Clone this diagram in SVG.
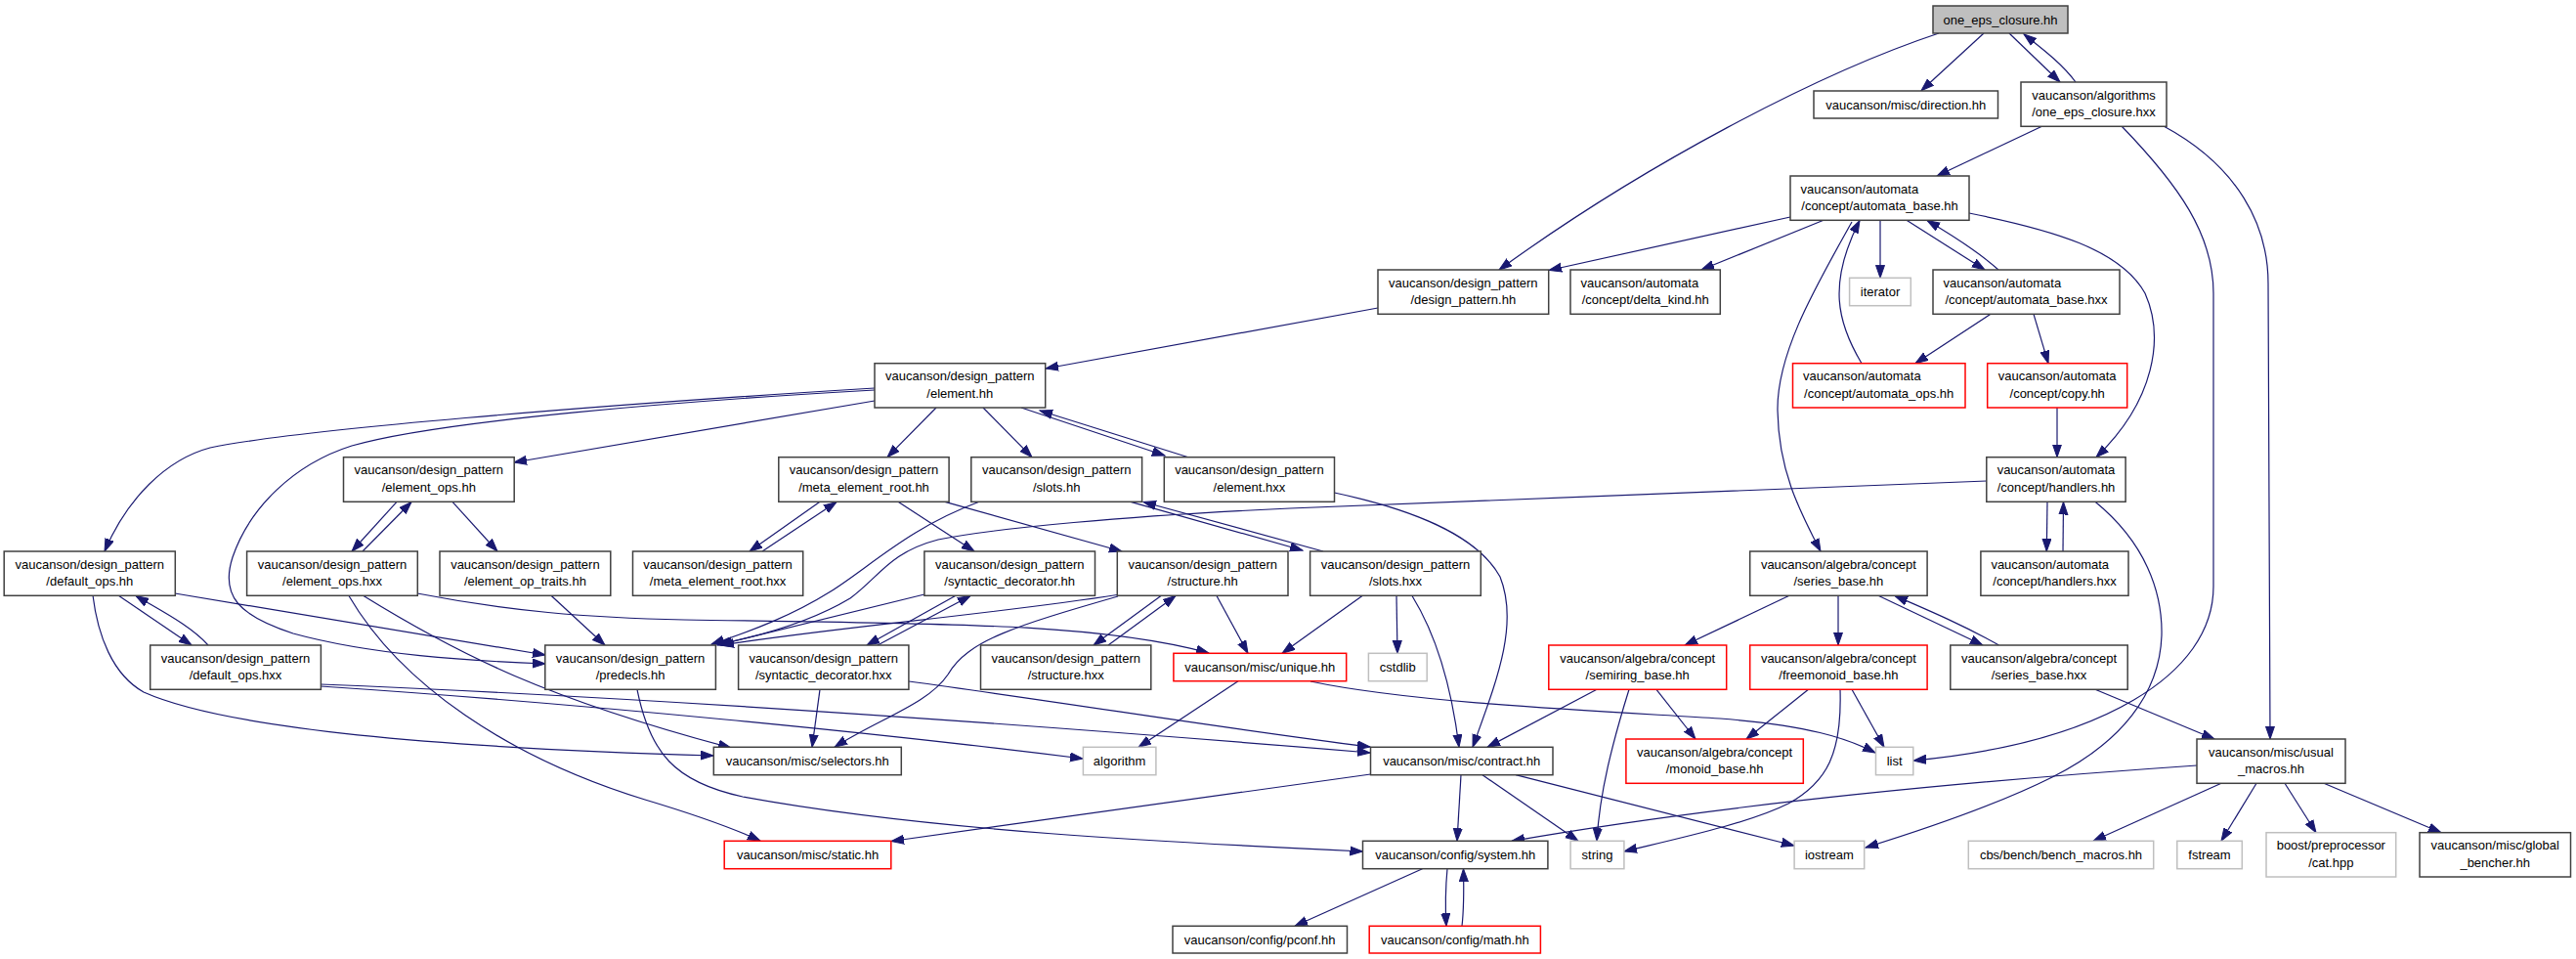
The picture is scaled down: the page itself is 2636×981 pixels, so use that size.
<svg xmlns="http://www.w3.org/2000/svg" width="2636" height="981" viewBox="0 0 2636 981">
<defs>
<marker id="a" markerWidth="15" markerHeight="11" refX="13" refY="5" orient="auto" markerUnits="userSpaceOnUse"><path d="M0,0.5 L13,5 L0,9.5 z" fill="#191970" stroke="#191970" stroke-width="1"/></marker>
</defs>
<style>
rect{fill:#fff;stroke:#404040;stroke-width:1.5}
.g rect{stroke:#bfbfbf}
.r rect{stroke:#ff0000}
.root rect{fill:#bfbfbf}
text{font-family:"Liberation Sans",Arial,sans-serif;font-size:13px;fill:#000;text-anchor:middle}
text.l{text-anchor:start}
#edges path{fill:none;stroke:#191970;stroke-width:1.2;marker-end:url(#a)}
</style>
<rect x="0" y="0" width="2636" height="981" style="fill:#fff;stroke:none"/>
<g id="edges">
<path d="M1984,34 C1860,75 1680,170 1534,276"/>
<path d="M2030,34 L1966,92.7"/>
<path d="M2056,34 L2108,84"/>
<path d="M2124,84 C2110,65 2090,50 2071,35"/>
<path d="M2090,129 L1982,180"/>
<path d="M2171,129 C2230,190 2265,240 2265,300 L2265,600 C2265,690 2150,760 1958,778"/>
<path d="M2214,129 C2290,170 2321,230 2321,290 L2323,756"/>
<path d="M1832,222 L1585,276.5"/>
<path d="M1866,225.3 L1741,276"/>
<path d="M1924,225.3 L1924,284.3"/>
<path d="M1951,225.3 L2031,276"/>
<path d="M2045,276 C2025,258 2000,242 1972,225.5"/>
<path d="M2015,218 C2100,235 2170,255 2195,300 C2215,345 2205,410 2145,467.7"/>
<path d="M1895,227 C1860,290 1818,360 1819,420 C1820,480 1840,520 1863,564"/>
<path d="M2037,321.3 L1960,371.7"/>
<path d="M2081,321.3 L2096,371.7"/>
<path d="M2105,417 L2105,467.7"/>
<path d="M1905,371.7 C1880,330 1870,290 1903,225.5"/>
<path d="M1410,315 L1070,377"/>
<path d="M958,417 L908,467.7"/>
<path d="M1006,417 L1056,467.7"/>
<path d="M1045,417 L1192,466"/>
<path d="M1216,467.7 L1064,420"/>
<path d="M895,410 L526,473"/>
<path d="M895,397 C600,415 300,440 215,458 C170,470 130,510 107,564"/>
<path d="M895,399 C700,410 450,430 360,456 C300,475 255,520 238,570 C225,610 245,630 300,648 C380,670 480,676 558,679"/>
<path d="M406,513.3 L360,564"/>
<path d="M371,564 L421,513.5"/>
<path d="M463,513.3 L509,564"/>
<path d="M121,609 L196,660"/>
<path d="M213,660 C195,640 165,625 139,609.5"/>
<path d="M179,607 L558,670"/>
<path d="M95,609 C100,650 115,690 147,708 C230,745 450,765 730,773"/>
<path d="M328,700 C700,715 1100,745 1402,770"/>
<path d="M328,702 C600,720 900,750 1108,776"/>
<path d="M357,609.5 C410,700 520,775 660,818 C700,830 745,845 778,860"/>
<path d="M372,609.5 C470,670 560,715 748,765"/>
<path d="M427,607 C520,625 600,632 700,634 C950,638 1120,636 1237,668"/>
<path d="M564,609.3 L619,660"/>
<path d="M839,513.3 L767,564"/>
<path d="M780,564 L856,513.5"/>
<path d="M919,513.3 L997,564"/>
<path d="M967,513.3 L1148,564"/>
<path d="M1002,513.3 C930,540 890,580 850,605 C810,630 770,645 728,659"/>
<path d="M1157,513.3 L1333,563"/>
<path d="M1354,564 L1170,513.5"/>
<path d="M1365.5,504 C1440,520 1510,545 1535,590 C1555,640 1530,700 1507,764.3"/>
<path d="M2033,492 L1320,520 C1150,528 1020,540 960,552 C910,565 900,590 870,612 C830,636 780,650 736,659"/>
<path d="M978,609.3 L887,660"/>
<path d="M898,660 L993,609.5"/>
<path d="M946,608 L734,660"/>
<path d="M1143,608.5 C1020,628 850,642 738,660"/>
<path d="M1144,610 C1040,640 990,655 970,690 C950,720 900,735 854,764.3"/>
<path d="M1188,609.5 L1119,660"/>
<path d="M1134,660 L1203,609.5"/>
<path d="M1245,609.5 L1277,668.3"/>
<path d="M1394,609.5 L1312,668.3"/>
<path d="M1429,609.5 L1430,668.3"/>
<path d="M1445,609.5 C1470,650 1485,700 1493,764.3"/>
<path d="M1267,696.7 L1165,764.3"/>
<path d="M1341,697 C1450,720 1650,728 1760,735 C1850,742 1890,755 1919,770"/>
<path d="M839,705.3 L831,764.3"/>
<path d="M930,697 C1100,720 1250,745 1402,764"/>
<path d="M652,705.3 C665,770 690,800 760,815 C950,850 1200,862 1394.5,871"/>
<path d="M1402.5,792 L912,860.5"/>
<path d="M1495,792.7 L1491,860.3"/>
<path d="M1517,792.7 L1615,860.3"/>
<path d="M1551,792.7 L1836,865"/>
<path d="M1455.5,888.7 L1325,947.3"/>
<path d="M1481,888.7 C1479,910 1479,930 1480,947.3"/>
<path d="M1496,947.3 C1498,930 1498,910 1497.5,888.7"/>
<path d="M1831,609.3 L1724,660"/>
<path d="M1881,609.3 L1881,660"/>
<path d="M1922,609.3 L2029,660"/>
<path d="M2045.5,660 C2010,640 1975,625 1939,609.5"/>
<path d="M1634,705.3 L1522,764.3"/>
<path d="M1667,705.3 C1650,760 1637,810 1634,860.3"/>
<path d="M1695,705.3 L1735,756"/>
<path d="M1850.5,705.3 L1787,756"/>
<path d="M1895,705.3 L1928,764.3"/>
<path d="M1883,705.3 C1885,770 1870,800 1830,822 C1790,842 1720,857 1662,871"/>
<path d="M2144,705.3 L2266,756"/>
<path d="M2095,513.3 L2094.3,564"/>
<path d="M2111,564 L2111.5,513.5"/>
<path d="M2144,513.3 C2195,555 2213,605 2212,650 C2210,710 2170,760 2100,795 C2050,820 1980,845 1909,867"/>
<path d="M2248,783 C2000,800 1750,825 1547,860.3"/>
<path d="M2273,801.3 L2142,860.3"/>
<path d="M2309,801.3 L2273,860.3"/>
<path d="M2338,801.3 L2370,851.7"/>
<path d="M2378,801.3 L2498,851.7"/>
</g>
<g id="one_eps_closure_hh" class="root"><rect x="1978" y="6" width="138" height="28"/><text x="2047" y="24.5">one_eps_closure.hh</text></g>
<g id="direction_hh"><rect x="1856" y="93" width="188.5" height="28"/><text x="1950.3" y="111.5">vaucanson/misc/direction.hh</text></g>
<g id="one_eps_closure_hxx"><rect x="2068" y="84" width="149" height="45.3"/><text x="2142.5" y="101.5">vaucanson/algorithms</text><text x="2142.5" y="119.3">/one_eps_closure.hxx</text></g>
<g id="automata_base_hh"><rect x="1832" y="180" width="183" height="45.3"/><text class="l" x="1842.5" y="197.5">vaucanson/automata</text><text x="1923.5" y="215.3">/concept/automata_base.hh</text></g>
<g id="design_pattern_hh"><rect x="1410" y="276" width="174.7" height="45.3"/><text x="1497.3" y="293.5">vaucanson/design_pattern</text><text x="1497.3" y="311.3">/design_pattern.hh</text></g>
<g id="delta_kind_hh"><rect x="1607" y="276" width="153.3" height="45.3"/><text class="l" x="1617.5" y="293.5">vaucanson/automata</text><text x="1683.7" y="311.3">/concept/delta_kind.hh</text></g>
<g id="iterator" class="g"><rect x="1892.6" y="284.3" width="62.7" height="28.4"/><text x="1924" y="302.8">iterator</text></g>
<g id="automata_base_hxx"><rect x="1978" y="276" width="191" height="45.3"/><text class="l" x="1988.5" y="293.5">vaucanson/automata</text><text x="2073.5" y="311.3">/concept/automata_base.hxx</text></g>
<g id="element_hh"><rect x="895" y="371.7" width="174.7" height="45.3"/><text x="982.3" y="389.2">vaucanson/design_pattern</text><text x="982.3" y="407">/element.hh</text></g>
<g id="automata_ops_hh" class="r"><rect x="1834.5" y="371.7" width="176.5" height="45.3"/><text class="l" x="1845" y="389.2">vaucanson/automata</text><text x="1922.7" y="407">/concept/automata_ops.hh</text></g>
<g id="copy_hh" class="r"><rect x="2033.7" y="371.7" width="143" height="45.3"/><text x="2105.2" y="389.2">vaucanson/automata</text><text x="2105.2" y="407">/concept/copy.hh</text></g>
<g id="element_ops_hh"><rect x="351.5" y="467.7" width="174.7" height="45.6"/><text x="438.8" y="485.2">vaucanson/design_pattern</text><text x="438.8" y="503">/element_ops.hh</text></g>
<g id="meta_element_root_hh"><rect x="796.8" y="467.7" width="174.3" height="45.6"/><text x="884" y="485.2">vaucanson/design_pattern</text><text x="884" y="503">/meta_element_root.hh</text></g>
<g id="slots_hh"><rect x="993.8" y="467.7" width="174.8" height="45.6"/><text x="1081.2" y="485.2">vaucanson/design_pattern</text><text x="1081.2" y="503">/slots.hh</text></g>
<g id="element_hxx"><rect x="1191.3" y="467.7" width="174.2" height="45.6"/><text x="1278.4" y="485.2">vaucanson/design_pattern</text><text x="1278.4" y="503">/element.hxx</text></g>
<g id="handlers_hh"><rect x="2032.8" y="467.7" width="142.3" height="45.6"/><text x="2104" y="485.2">vaucanson/automata</text><text x="2104" y="503">/concept/handlers.hh</text></g>
<g id="default_ops_hh"><rect x="4.2" y="564" width="175.1" height="45.3"/><text x="91.8" y="581.5">vaucanson/design_pattern</text><text x="91.8" y="599.3">/default_ops.hh</text></g>
<g id="element_ops_hxx"><rect x="252.6" y="564" width="174.7" height="45.3"/><text x="340" y="581.5">vaucanson/design_pattern</text><text x="340" y="599.3">/element_ops.hxx</text></g>
<g id="element_op_traits_hh"><rect x="450" y="564" width="174.8" height="45.3"/><text x="537.4" y="581.5">vaucanson/design_pattern</text><text x="537.4" y="599.3">/element_op_traits.hh</text></g>
<g id="meta_element_root_hxx"><rect x="647.5" y="564" width="174.2" height="45.3"/><text x="734.6" y="581.5">vaucanson/design_pattern</text><text x="734.6" y="599.3">/meta_element_root.hxx</text></g>
<g id="syntactic_decorator_hh"><rect x="945.9" y="564" width="174.6" height="45.3"/><text x="1033.2" y="581.5">vaucanson/design_pattern</text><text x="1033.2" y="599.3">/syntactic_decorator.hh</text></g>
<g id="structure_hh"><rect x="1143.3" y="564" width="174.7" height="45.3"/><text x="1230.7" y="581.5">vaucanson/design_pattern</text><text x="1230.7" y="599.3">/structure.hh</text></g>
<g id="slots_hxx"><rect x="1340.6" y="564" width="174.7" height="45.3"/><text x="1428" y="581.5">vaucanson/design_pattern</text><text x="1428" y="599.3">/slots.hxx</text></g>
<g id="series_base_hh"><rect x="1790.7" y="564" width="181.4" height="45.3"/><text x="1881.4" y="581.5">vaucanson/algebra/concept</text><text x="1881.4" y="599.3">/series_base.hh</text></g>
<g id="handlers_hxx"><rect x="2026.9" y="564" width="151.1" height="45.3"/><text class="l" x="2037.4" y="581.5">vaucanson/automata</text><text x="2102.5" y="599.3">/concept/handlers.hxx</text></g>
<g id="default_ops_hxx"><rect x="153.7" y="660" width="174.7" height="45.3"/><text x="241" y="677.5">vaucanson/design_pattern</text><text x="241" y="695.3">/default_ops.hxx</text></g>
<g id="predecls_hh"><rect x="557.8" y="660" width="174.6" height="45.3"/><text x="645.1" y="677.5">vaucanson/design_pattern</text><text x="645.1" y="695.3">/predecls.hh</text></g>
<g id="syntactic_decorator_hxx"><rect x="755.6" y="660" width="174.3" height="45.3"/><text x="842.7" y="677.5">vaucanson/design_pattern</text><text x="842.7" y="695.3">/syntactic_decorator.hxx</text></g>
<g id="structure_hxx"><rect x="1003.5" y="660" width="174.3" height="45.3"/><text x="1090.7" y="677.5">vaucanson/design_pattern</text><text x="1090.7" y="695.3">/structure.hxx</text></g>
<g id="unique_hh" class="r"><rect x="1200.9" y="668.3" width="176.8" height="28.4"/><text x="1289.3" y="686.8">vaucanson/misc/unique.hh</text></g>
<g id="cstdlib" class="g"><rect x="1400.4" y="668.3" width="59.8" height="28.4"/><text x="1430.3" y="686.8">cstdlib</text></g>
<g id="semiring_base_hh" class="r"><rect x="1584.8" y="660" width="181.9" height="45.3"/><text x="1675.7" y="677.5">vaucanson/algebra/concept</text><text x="1675.7" y="695.3">/semiring_base.hh</text></g>
<g id="freemonoid_base_hh" class="r"><rect x="1790.7" y="660" width="181.4" height="45.3"/><text x="1881.4" y="677.5">vaucanson/algebra/concept</text><text x="1881.4" y="695.3">/freemonoid_base.hh</text></g>
<g id="series_base_hxx"><rect x="1995.8" y="660" width="181.4" height="45.3"/><text x="2086.5" y="677.5">vaucanson/algebra/concept</text><text x="2086.5" y="695.3">/series_base.hxx</text></g>
<g id="selectors_hh"><rect x="730.3" y="764.3" width="192" height="28.4"/><text x="826.3" y="782.8">vaucanson/misc/selectors.hh</text></g>
<g id="algorithm" class="g"><rect x="1108.4" y="764.3" width="74.5" height="28.4"/><text x="1145.6" y="782.8">algorithm</text></g>
<g id="contract_hh"><rect x="1402.5" y="764.3" width="186.5" height="28.4"/><text x="1495.7" y="782.8">vaucanson/misc/contract.hh</text></g>
<g id="list" class="g"><rect x="1919.5" y="764.3" width="38.3" height="28.4"/><text x="1938.6" y="782.8">list</text></g>
<g id="monoid_base_hh" class="r"><rect x="1663.9" y="756" width="181.4" height="45.3"/><text x="1754.6" y="773.5">vaucanson/algebra/concept</text><text x="1754.6" y="791.3">/monoid_base.hh</text></g>
<g id="usual_macros_hh"><rect x="2248" y="756" width="152" height="45.3"/><text x="2324" y="773.5">vaucanson/misc/usual</text><text x="2324" y="791.3">_macros.hh</text></g>
<g id="static_hh" class="r"><rect x="741.2" y="860.3" width="170.6" height="28.4"/><text x="826.5" y="878.8">vaucanson/misc/static.hh</text></g>
<g id="system_hh"><rect x="1394.5" y="860.3" width="189.4" height="28.4"/><text x="1489.2" y="878.8">vaucanson/config/system.hh</text></g>
<g id="string" class="g"><rect x="1607.1" y="860.3" width="54.8" height="28.4"/><text x="1634.5" y="878.8">string</text></g>
<g id="iostream" class="g"><rect x="1836.1" y="860.3" width="71.6" height="28.4"/><text x="1871.9" y="878.8">iostream</text></g>
<g id="bench_macros_hh" class="g"><rect x="2014.3" y="860.3" width="189.4" height="28.4"/><text x="2109" y="878.8">cbs/bench/bench_macros.hh</text></g>
<g id="fstream" class="g"><rect x="2227.8" y="860.3" width="66.5" height="28.4"/><text x="2261" y="878.8">fstream</text></g>
<g id="cat_hpp" class="g"><rect x="2319" y="851.7" width="132.7" height="45.3"/><text x="2385.3" y="869.2">boost/preprocessor</text><text x="2385.3" y="887">/cat.hpp</text></g>
<g id="global_bencher_hh"><rect x="2476" y="851.7" width="154.5" height="45.3"/><text x="2553.2" y="869.2">vaucanson/misc/global</text><text x="2553.2" y="887">_bencher.hh</text></g>
<g id="pconf_hh"><rect x="1200" y="947.3" width="178.5" height="27.7"/><text x="1289.2" y="965.8">vaucanson/config/pconf.hh</text></g>
<g id="math_hh" class="r"><rect x="1401.2" y="947.3" width="175.2" height="27.7"/><text x="1488.8" y="965.8">vaucanson/config/math.hh</text></g>
</svg>
